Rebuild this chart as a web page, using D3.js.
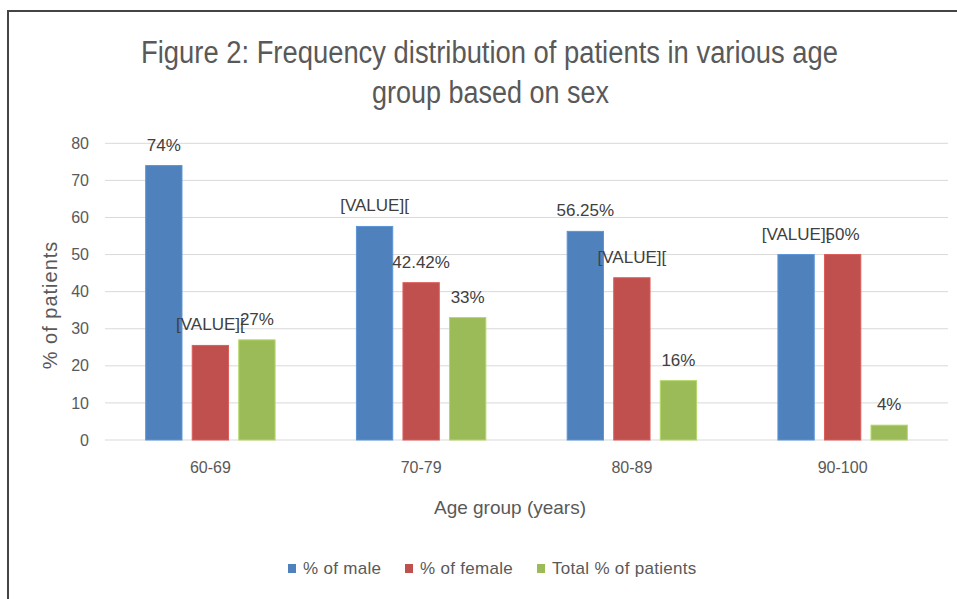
<!DOCTYPE html>
<html>
<head>
<meta charset="utf-8">
<script src="https://cdnjs.cloudflare.com/ajax/libs/d3/7.8.5/d3.min.js"></script>
<style>
  body { margin: 0; background: #fff; }
  svg { display: block; font-family: "Liberation Sans Narrow", "Arial Narrow", "Liberation Sans", sans-serif; }
</style>
</head>
<body>
<svg id="chart"></svg>
<script>
const ageGroups = ["60-69", "70-79", "80-89", "90-100"]
const seriesNames = ["% of male", "% of female", "Total % of patients"]
const seriesColors = ["#4f81bd", "#c0504d", "#9bbb59"]
const maleValues = [74, 57.58, 56.25, 50]
const femaleValues = [25.5, 42.42, 43.75, 50]
const totalValues = [27, 33, 16, 4]
const maleLabels = ["74%", "[VALUE][", "56.25%", "[VALUE]["]
const femaleLabels = ["[VALUE][", "42.42%", "[VALUE][", "50%"]
const totalLabels = ["27%", "33%", "16%", "4%"]
const yTicks = [0, 10, 20, 30, 40, 50, 60, 70, 80]

const width = 957, height = 599
const margin = {top: 143.3, right: 9, bottom: 159, left: 105}
const textColor = "#595959"

const svg = d3.select("#chart")
  .attr("width", width)
  .attr("height", height)

// outer frame (only top and left visible)
svg.append("path")
  .attr("d", `M8,${height + 5} V11 H${width + 5}`)
  .attr("fill", "none")
  .attr("stroke", "#444")
  .attr("stroke-width", 2)

const rows = ageGroups.map((g, i) => ({
  group: g,
  values: [
    {key: 0, value: maleValues[i], label: maleLabels[i]},
    {key: 1, value: femaleValues[i], label: femaleLabels[i]},
    {key: 2, value: totalValues[i], label: totalLabels[i]}
  ]
}))

const x0 = d3.scaleBand()
  .domain(ageGroups)
  .range([margin.left, width - margin.right])

const bw = x0.bandwidth()
const x1 = d3.scaleBand()
  .domain([0, 1, 2])
  .range([bw * 0.193, bw * 0.807])
  .paddingInner(0.22)

const y = d3.scaleLinear()
  .domain([0, 80])
  .range([height - margin.bottom, margin.top])

// gridlines
svg.append("g")
  .selectAll("line")
  .data(yTicks)
  .enter().append("line")
  .attr("x1", margin.left)
  .attr("x2", width - margin.right)
  .attr("y1", d => y(d))
  .attr("y2", d => y(d))
  .attr("stroke", "#d9d9d9")
  .attr("stroke-width", 1)

// y axis labels
const yAxis = svg.append("g")
  .attr("transform", `translate(${margin.left - 16},0)`)
  .call(d3.axisLeft(y).tickValues(yTicks).tickSize(0).tickPadding(0))
yAxis.select(".domain").remove()
yAxis.selectAll("text")
  .attr("fill", textColor)
  .style("font-size", "16px")
  .style("font-family", "inherit")

// x axis labels
const xAxis = svg.append("g")
  .attr("transform", `translate(0,${y(0)})`)
  .call(d3.axisBottom(x0).tickSize(0).tickPadding(22))
xAxis.select(".domain").remove()
xAxis.selectAll("text")
  .attr("fill", textColor)
  .style("font-size", "16px")
  .style("font-family", "inherit")

// bars
const groups = svg.append("g")
  .selectAll("g")
  .data(rows)
  .enter().append("g")
  .attr("transform", d => `translate(${x0(d.group)},0)`)

groups.selectAll("rect")
  .data(d => d.values)
  .enter().append("rect")
  .attr("x", d => x1(d.key))
  .attr("width", x1.bandwidth())
  .attr("y", d => y(d.value))
  .attr("height", d => y(0) - y(d.value))
  .attr("fill", d => seriesColors[d.key])
  .attr("stroke", d => d3.color(seriesColors[d.key]).brighter(0.4))
  .attr("stroke-width", 1)

groups.selectAll("text")
  .data(d => d.values)
  .enter().append("text")
  .attr("x", d => x1(d.key) + x1.bandwidth() / 2)
  .attr("y", d => y(d.value) - 15)
  .attr("text-anchor", "middle")
  .attr("fill", "#404040")
  .style("font-size", "17px")
  .text(d => d.label)

// title, squeezed to the narrow width of the original face
const title = svg.append("g")
  .attr("fill", textColor)
  .style("font-size", "31px")
title.append("text")
  .attr("x", 141)
  .attr("y", 63)
  .attr("textLength", 697)
  .attr("lengthAdjust", "spacingAndGlyphs")
  .text("Figure 2: Frequency distribution of patients in various age")
title.append("text")
  .attr("x", 372)
  .attr("y", 103)
  .attr("textLength", 237)
  .attr("lengthAdjust", "spacingAndGlyphs")
  .text("group based on sex")

// axis titles
svg.append("text")
  .attr("transform", "translate(57,305) rotate(-90)")
  .attr("text-anchor", "middle")
  .attr("fill", textColor)
  .style("font-size", "20px")
  .style("letter-spacing", "1px")
  .text("% of patients")

svg.append("text")
  .attr("x", 510)
  .attr("y", 514)
  .attr("text-anchor", "middle")
  .attr("fill", textColor)
  .style("font-size", "19px")
  .text("Age group (years)")

// legend
const legendX = [288, 405, 537]
const legend = svg.append("g")
  .selectAll("g")
  .data(seriesNames)
  .enter().append("g")
  .attr("transform", (d, i) => `translate(${legendX[i]},564)`)

legend.append("rect")
  .attr("width", 8)
  .attr("height", 9)
  .attr("fill", (d, i) => seriesColors[i])

legend.append("text")
  .attr("x", 15)
  .attr("y", 10)
  .attr("fill", textColor)
  .style("font-size", "17px")
  .style("letter-spacing", "0.3px")
  .text(d => d)
</script>
</body>
</html>
